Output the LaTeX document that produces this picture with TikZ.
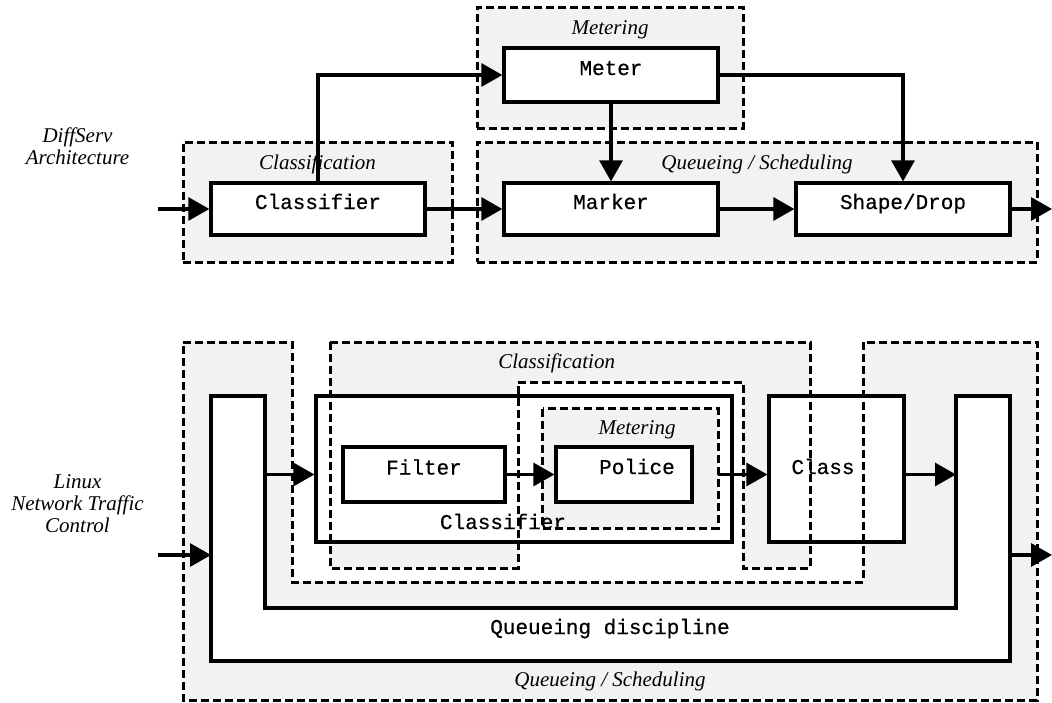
\documentclass[tikz,border=0pt]{standalone}
\usepackage{fontspec}
\setmainfont{Liberation Serif}
\newfontfamily\monofont[FakeBold=0.5]{Liberation Mono}
\usetikzlibrary{arrows.meta}
\definecolor{areagray}{RGB}{242,242,242}
\begin{document}
\begin{tikzpicture}[x=1pt,y=-1pt,
  box/.style={draw, line width=3.2pt, fill=white, inner sep=0pt,
    font=\monofont\fontsize{21}{22}\selectfont, text height=11pt, text depth=11pt},
  area/.style={fill=areagray, inner sep=0pt},
  dashbox/.style={draw, line width=3pt, dash pattern=on 8pt off 4pt},
  arr/.style={line width=3.2pt, -{Triangle[length=21pt,width=23pt]}},
  title/.style={font=\itshape\fontsize{21}{22}\selectfont, inner sep=0pt,
    text height=13pt, text depth=0pt},
  monolbl/.style={font=\monofont\fontsize{21}{22}\selectfont, inner sep=0pt,
    text height=12pt, text depth=0pt},
  side/.style={font=\itshape\fontsize{21}{22}\selectfont, align=center, inner sep=0pt}]
\useasboundingbox (0,0) rectangle (1052,702);

% ---------------- DiffServ architecture ----------------
\node[area, dashbox, minimum width=266pt, minimum height=121pt] (meterArea) at (610,67.5) {};
\node[area, dashbox, minimum width=269pt, minimum height=120pt] (classArea) at (317.5,202) {};
\node[area, dashbox, minimum width=560pt, minimum height=120pt] (queueArea) at (757,202) {};

\node[title] (meterTitle) at (610,28) {Metering};
\node[title] (classTitle) at (317.5,163) {Classification};
\node[title] (queueTitle) at (757,163) {Queueing / Scheduling};

\node[box, minimum width=214pt, minimum height=54pt] (meter) at (611,75) {Meter};
\node[box, minimum width=214pt, minimum height=52pt] (classifier) at (318,209) {Classifier};
\node[box, minimum width=214pt, minimum height=52pt] (marker) at (611,209) {Marker};
\node[box, minimum width=214pt, minimum height=52pt] (shaper) at (903,209) {Shape/Drop};

\coordinate (topIn) at (158,209);
\coordinate (topOut) at (1052,209);
\draw[arr] (topIn) -- (classifier.west);
\draw[arr] (classifier.east) -- (marker.west);
\draw[arr] (classifier.north) |- (meter.west);
\draw[arr] (meter.south) -- (marker.north);
\draw[arr] (meter.east) -| (shaper.north);
\draw[arr] (marker.east) -- (shaper.west);
\draw[arr] (shaper.east) -- (topOut);

\node[side] (diffserv) at (77.5,146) {DiffServ\\Architecture};

% ---------------- Linux traffic control ----------------
% queueing / scheduling area (U shape)
\fill[areagray] (183,342) -- (292,342) -- (292,582) -- (863,582) -- (863,342)
  -- (1037,342) -- (1037,700) -- (183,700) -- cycle;
% queueing discipline (U shape)
\filldraw[fill=white, line width=3.2pt] (211,396) -- (265,396) -- (265,608) -- (956,608)
  -- (956,396) -- (1010,396) -- (1010,661) -- (211,661) -- cycle;
% classification area
\fill[areagray] (330,342) -- (810,342) -- (810,568) -- (743,568) -- (743,382)
  -- (518,382) -- (518,568) -- (330,568) -- cycle;

\node[box, minimum width=416pt, minimum height=146pt] (classifierL) at (524,469) {};
\node[area, minimum width=175pt, minimum height=119pt] (meterL) at (630.5,468.5) {};
\node[box, minimum width=162pt, minimum height=55pt] (filter) at (424,474.5) {Filter};
\node[box, minimum width=136pt, minimum height=55pt] (police) at (624,474.5) {};
\node[box, minimum width=135pt, minimum height=146pt] (class) at (836.5,469) {};

\node[monolbl] (policeTxt) at (637,468) {Police};
\node[monolbl] (classTxt) at (823,468) {Class};
\node[monolbl] (classifierTxt) at (503,523) {Classifier};
\node[title] (meterTitleL) at (637,428) {Metering};

% dashed outlines on top
\draw[dashbox] (183,342) -- (292,342) -- (292,582) -- (863,582) -- (863,342)
  -- (1037,342) -- (1037,700) -- (183,700) -- cycle;
\draw[dashbox] (330,342) -- (810,342) -- (810,568) -- (743,568) -- (743,382)
  -- (518,382) -- (518,568) -- (330,568) -- cycle;
\draw[dashbox] (meterL.north west) rectangle (meterL.south east);

% connectors
\coordinate (lowIn) at (158,555);
\coordinate (qdiscIn) at (211,555);
\coordinate (qdiscArmL) at (265,474.5);
\coordinate (qdiscArmR) at (956,474.5);
\coordinate (qdiscOut) at (1010,555);
\coordinate (lowOut) at (1052,555);
\draw[arr] (lowIn) -- (qdiscIn);
\draw[arr] (qdiscArmL) -- (classifierL.west |- filter.west);
\draw[arr] (filter.east) -- (police.west);
\draw[arr] (meterL.east |- police.east) -- (class.west |- police.east);
\draw[arr] (class.east |- police.east) -- (qdiscArmR);
\draw[arr] (qdiscOut) -- (lowOut);

\node[title] (classTitleL) at (556.7,362) {Classification};
\node[monolbl] (qdiscTxt) at (610,628) {Queueing discipline};
\node[title] (queueTitleL) at (610,680) {Queueing / Scheduling};

\node[side] (linuxTc) at (77.5,504) {Linux\\Network Traffic\\Control};
\end{tikzpicture}
\end{document}
